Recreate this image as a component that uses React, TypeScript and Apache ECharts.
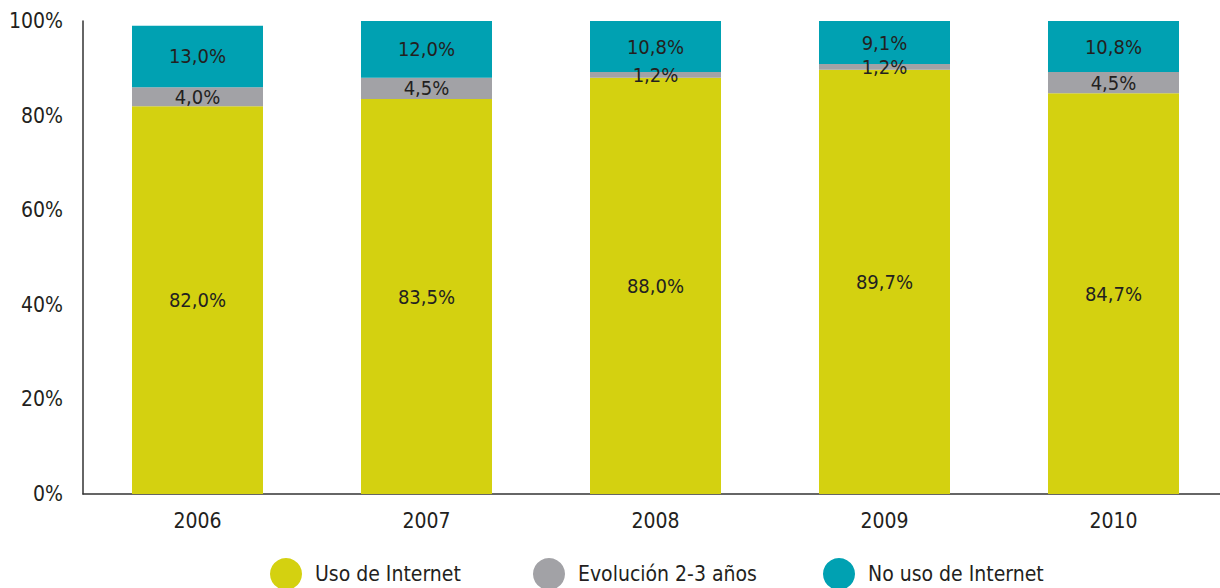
import React, { useEffect, useRef } from "react";
import * as echarts from "echarts";

const categories = ["2006", "2007", "2008", "2009", "2010"];
const usoInternet = [82.0, 83.5, 88.0, 89.7, 84.7];
const evolucion = [4.0, 4.5, 1.2, 1.2, 4.5];
const noUso = [13.0, 12.0, 10.8, 9.1, 10.8];
const seriesNames = ["Uso de Internet", "Evolución 2-3 años", "No uso de Internet"];
const yTicks = [0, 20, 40, 60, 80, 100];

const COLORS = ["#D4D110", "#A2A2A6", "#00A1B2"];
const FONT = "'Liberation Sans Narrow', 'DejaVu Sans Condensed', 'Roboto Condensed', Arial, sans-serif";
const TXT = "#231F20";

export default function App() {
  const ref = useRef<HTMLDivElement>(null);
  useEffect(() => {
    document.body.style.margin = "0";
    const chart = echarts.init(ref.current!, null, { renderer: "svg" });
    const fmt = (p: any) => Number(p.value).toFixed(1).replace(".", ",") + "%";
    const mk = (name: string, data: number[], color: string) => ({
      name,
      type: "bar",
      stack: "total",
      data,
      barWidth: 131,
      itemStyle: { color },
      label: {
        show: true,
        position: "inside",
        formatter: fmt,
        color: TXT,
        fontFamily: FONT,
        fontSize: 20,
      },
    });
    const legendLefts = [270, 533, 823];
    chart.setOption({
      animation: false,
      textStyle: { fontFamily: FONT },
      grid: {
        left: 83,
        width: 1145,
        top: 21,
        bottom: 94,
        containLabel: false,
        outerBoundsMode: "none",
      },
      legend: seriesNames.map((n, i) => ({
        data: [n],
        left: legendLefts[i],
        top: 558,
        padding: 0,
        icon: "circle",
        itemWidth: 32,
        itemHeight: 32,
        itemGap: 0,
        textStyle: { color: TXT, fontFamily: FONT, fontSize: 21, padding: [0, 0, 0, 8] },
      })),
      xAxis: {
        type: "category",
        data: categories,
        axisLine: { lineStyle: { color: "#333", width: 1.5 } },
        axisTick: { show: false },
        axisLabel: { color: TXT, fontFamily: FONT, fontSize: 21, margin: 16 },
      },
      yAxis: {
        type: "value",
        min: 0,
        max: 100,
        interval: 20,
        splitLine: { show: false },
        axisLine: { show: true, lineStyle: { color: "#333", width: 1.5 } },
        axisTick: { show: false },
        axisLabel: {
          color: TXT,
          fontFamily: FONT,
          fontSize: 21,
          margin: 20,
          formatter: (v: number) => (yTicks.includes(v) ? v + "%" : ""),
        },
      },
      series: [
        mk(seriesNames[0], usoInternet, COLORS[0]),
        mk(seriesNames[1], evolucion, COLORS[1]),
        mk(seriesNames[2], noUso, COLORS[2]),
      ],
    });
    return () => chart.dispose();
  }, []);
  return <div ref={ref} style={{ width: 1220, height: 588 }} />;
}
